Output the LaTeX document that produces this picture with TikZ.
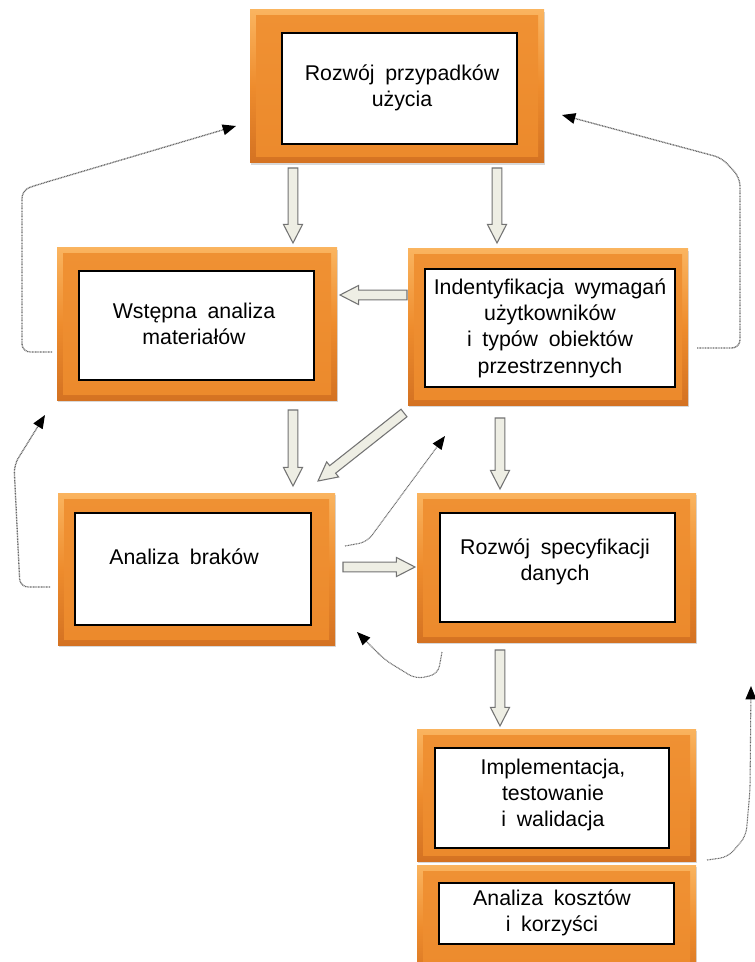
\documentclass[tikz,border=0pt]{standalone}
\usepackage{fontspec}
\setmainfont{Liberation Sans}
\usetikzlibrary{calc,fit,shadows,arrows.meta}

\definecolor{orangemid}{RGB}{238,140,45}
\definecolor{orangetop}{RGB}{250,180,95}
\definecolor{orangebot}{RGB}{212,114,34}
\definecolor{arrfill}{RGB}{238,238,228}
\definecolor{arrline}{RGB}{115,115,115}
\definecolor{dotline}{RGB}{105,105,105}

\newcommand{\boxfont}{\fontsize{16}{19.8}\selectfont\spaceskip=0.5em\relax}

\tikzset{
  orangebox/.style={rectangle, inner sep=0pt, outer sep=0pt,
    top color=orangetop, bottom color=orangebot, middle color=orangemid,
    drop shadow={opacity=0.3, shadow xshift=1pt, shadow yshift=-1.6pt}},
  bevel/.style={top color=orangemid!88!orangetop, bottom color=orangemid!92!orangebot},
  whitebox/.style={rectangle, inner sep=0pt, outer sep=0pt, fill=white, draw=black, line width=1.8pt},
  boxtext/.style={align=center, inner sep=0pt, font=\boxfont},
  blockarrstyle/.style={fill=arrfill, draw=arrline, line width=0.8pt, line join=miter},
  dotarr/.style={draw=dotline, dash pattern=on 0.7pt off 0.5pt, line width=1pt, rounded corners=6pt,
    -{Triangle[length=10pt,width=8pt,color=black]}},
}

\newcommand{\blockarr}[2]{%
  \path ($(#2)!14pt!(#1)$) coordinate (neck);
  \draw[blockarrstyle] ($(#1)!3.6pt!90:(#2)$) -- ($(neck)!3.6pt!-90:(#1)$)
    -- ($(neck)!7.2pt!-90:(#1)$) -- (#2) -- ($(neck)!7.2pt!90:(#1)$)
    -- ($(neck)!3.6pt!90:(#1)$) -- ($(#1)!3.6pt!-90:(#2)$) -- cycle;}

\newcommand{\orangeframe}[1]{%
  \fill[bevel] ($(#1.north west)+(6,6)$) rectangle ($(#1.south east)+(-6,-6)$);}

\begin{document}
\begin{tikzpicture}[x=0.75pt,y=-0.75pt]
\fill[white] (0,0) rectangle (754,962);
\useasboundingbox (0,0) rectangle (754,962);

% orange frames
\node[orangebox, fit={(250,10)(544,163)}] (o1) {};
\node[orangebox, fit={(57,248)(337,400)}] (o2) {};
\node[orangebox, fit={(408,249)(688,405)}] (o3) {};
\node[orangebox, fit={(58,493)(335,645)}] (o4) {};
\node[orangebox, fit={(417,493)(696,642)}] (o5) {};
\node[orangebox, fit={(417,729)(696,861)}] (o6) {};
\node[orangebox, fit={(417,865)(696,990)}] (o7) {};
\foreach \n in {o1,o2,o3,o4,o5,o6,o7} {\orangeframe{\n}}

% white boxes
\node[whitebox, fit={(282,33)(517,144)}] (b1) {};
\node[whitebox, fit={(79,271)(314,380)}] (b2) {};
\node[whitebox, fit={(425,269)(675,387)}] (b3) {};
\node[whitebox, fit={(75,513)(311,625)}] (b4) {};
\node[whitebox, fit={(440,513)(675,622)}] (b5) {};
\node[whitebox, fit={(435,748)(669,848)}] (b6) {};
\node[whitebox, fit={(439,883)(674,944)}] (b7) {};

% texts
\node[boxtext] (t1) at (402,88) {Rozwój przypadków\\użycia};
\node[boxtext] (t2) at (194,324) {Wstępna analiza\\materiałów};
\node[boxtext] (t3) at (550,328) {Indentyfikacja wymagań\\użytkowników\\i typów obiektów\\przestrzennych};
\node[boxtext] (t4) at (184,557) {Analiza braków};
\node[boxtext] (t5) at (555,562) {Rozwój specyfikacji\\danych};
\node[boxtext] (t6) at (553,795) {Implementacja,\\testowanie\\i walidacja};
\node[boxtext] (t7) at (552,913) {Analiza kosztów\\i korzyści};

% block arrow end points
\coordinate (a1s) at (293,168); \coordinate (a1e) at (293,243);
\coordinate (a2s) at (497,168); \coordinate (a2e) at (497,243);
\coordinate (a3s) at (407,295); \coordinate (a3e) at (340,295);
\coordinate (a4s) at (293,410); \coordinate (a4e) at (293,486);
\coordinate (a5s) at (404,413); \coordinate (a5e) at (318,481);
\coordinate (a6s) at (500,418); \coordinate (a6e) at (500,489);
\coordinate (a7s) at (343,567); \coordinate (a7e) at (415,567);
\coordinate (a8s) at (500,650); \coordinate (a8e) at (500,726);
\blockarr{a1s}{a1e}
\blockarr{a2s}{a2e}
\blockarr{a3s}{a3e}
\blockarr{a4s}{a4e}
\blockarr{a5s}{a5e}
\blockarr{a6s}{a6e}
\blockarr{a7s}{a7e}
\blockarr{a8s}{a8e}

% dotted feedback arrows
\coordinate (d1s) at (52,352); \coordinate (d1e) at (236,126);
\draw[dotarr] (d1s) -- (22,352) -- (22,190) -- (40,184) -- (d1e);
\coordinate (d2s) at (697,348); \coordinate (d2e) at (562,115);
\draw[dotarr] (d2s) -- (740,348) -- (740,178) -- (722,158) -- (d2e);
\coordinate (d3s) at (50,587); \coordinate (d3e) at (45,415);
\draw[dotarr] (d3s) -- (20,587) -- (14,465) -- (d3e);
\coordinate (d4s) at (345,546); \coordinate (d4e) at (445,436);
\draw[dotarr, line width=0.8pt] (d4s) -- (367,542) -- (d4e);
\coordinate (d5s) at (442,652); \coordinate (d5e) at (357,632);
\draw[dotarr, line width=0.8pt] (d5s) -- (438,674) -- (416,679) -- (385,660) -- (d5e);
\coordinate (d6s) at (707,860); \coordinate (d6e) at (751,686);
\draw[dotarr, line width=0.8pt] (d6s) -- (728,857) -- (746,836) -- (750,790) -- (d6e);
\end{tikzpicture}
\end{document}
